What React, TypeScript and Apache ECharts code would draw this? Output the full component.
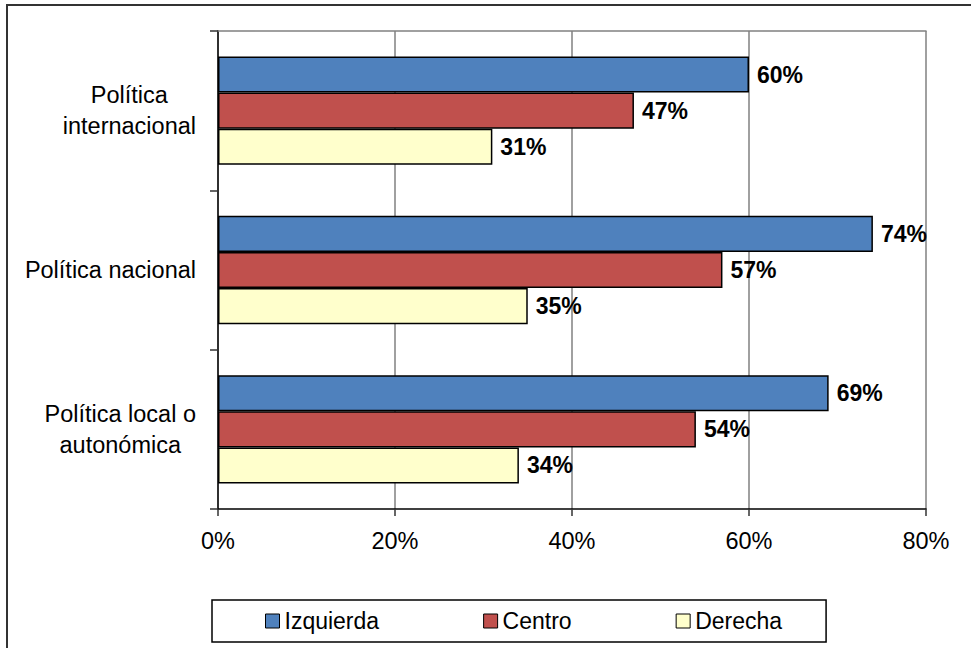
import React, { useEffect, useRef } from "react";
import * as echarts from "echarts";

const categories = ["Política\ninternacional", "Política nacional", "Política local o\nautonómica"];
const seriesNames = ["Izquierda", "Centro", "Derecha"];
const izquierda = [60, 74, 69];
const centro = [47, 57, 54];
const derecha = [31, 35, 34];
const xTicks = { min: 0, max: 80, interval: 20 };

const colors = ["#4F81BD", "#C0504D", "#FFFFCC"];
const FONT = 'Arial, "Liberation Sans", sans-serif';

export default function App() {
  const ref = useRef<HTMLDivElement>(null);
  useEffect(() => {
    if (!ref.current) return;
    const chart = echarts.init(ref.current, undefined, { renderer: "svg" });
    const values = [izquierda, centro, derecha];
    const option: any = {
      animation: false,
      backgroundColor: "#ffffff",
      textStyle: { fontFamily: FONT },
      grid: { left: 218, right: 45, top: 31, bottom: 139, containLabel: false, outerBoundsMode: "none" },
      xAxis: [
        {
          type: "value",
          min: xTicks.min,
          max: xTicks.max,
          interval: xTicks.interval,
          position: "bottom",
          axisLine: { show: true, lineStyle: { color: "#000", width: 1.5 } },
          axisTick: { show: true, length: 7, lineStyle: { color: "#333", width: 1.5 } },
          axisLabel: { formatter: "{value}%", fontSize: 23.5, color: "#000", margin: 20, fontFamily: FONT },
          splitLine: { show: true, lineStyle: { color: "#808080", width: 1.5 } },
        },
        {
          type: "value",
          min: xTicks.min,
          max: xTicks.max,
          interval: xTicks.interval,
          position: "top",
          axisLine: { show: true, lineStyle: { color: "#808080", width: 1.5 } },
          axisTick: { show: false },
          axisLabel: { show: false },
          splitLine: { show: false },
        },
      ],
      yAxis: [
        {
          type: "category",
          data: categories,
          inverse: true,
          position: "left",
          axisLine: { show: true, lineStyle: { color: "#000", width: 1.5 } },
          axisTick: { show: true, length: 8, lineStyle: { color: "#333", width: 1.5 } },
          axisLabel: {
            margin: 22,
            align: "right",
            fontSize: 23.5,
            color: "#000",
            fontFamily: FONT,
            lineHeight: 31,
            formatter: (v: string) =>
              v
                .split("\n")
                .map((l) => `{c|${l}}`)
                .join("\n"),
            rich: {
              c: { align: "center", fontSize: 23.5, lineHeight: 31, color: "#000", fontFamily: FONT },
            },
          },
        },
        {
          type: "category",
          data: categories,
          inverse: true,
          position: "right",
          axisLine: { show: true, lineStyle: { color: "#333", width: 1.5 } },
          axisTick: { show: false },
          axisLabel: { show: false },
        },
      ],
      legend: {
        data: seriesNames,
        left: 212,
        top: 600,
        orient: "horizontal",
        borderColor: "#000",
        borderWidth: 1.5,
        padding: [9.5, 44, 9.5, 53],
        itemWidth: 14,
        itemHeight: 14,
        itemGap: 104,
        icon: "rect",
        itemStyle: { borderColor: "#000", borderWidth: 1 },
        textStyle: { fontSize: 23, color: "#000", fontFamily: FONT },
      },
      graphic: [
        {
          type: "rect",
          shape: { x: 7, y: 5, width: 1200, height: 900 },
          style: { fill: "none", stroke: "#333", lineWidth: 2 },
          silent: true,
        },
      ],
      series: seriesNames.map((name, i) => ({
        name,
        type: "bar",
        xAxisIndex: 0,
        yAxisIndex: 0,
        data: values[i],
        barGap: "0%",
        barCategoryGap: "32%",
        itemStyle: { color: colors[i], borderColor: "#000", borderWidth: 1.5 },
        label: {
          show: true,
          position: "right",
          distance: 8,
          formatter: "{c}%",
          fontSize: 23,
          fontWeight: "bold",
          color: "#000",
          fontFamily: FONT,
        },
      })),
    };
    chart.setOption(option);
    return () => chart.dispose();
  }, []);
  return (
    <div
      ref={ref}
      style={{ position: "absolute", left: 0, top: 0, width: 971, height: 648 }}
    />
  );
}
